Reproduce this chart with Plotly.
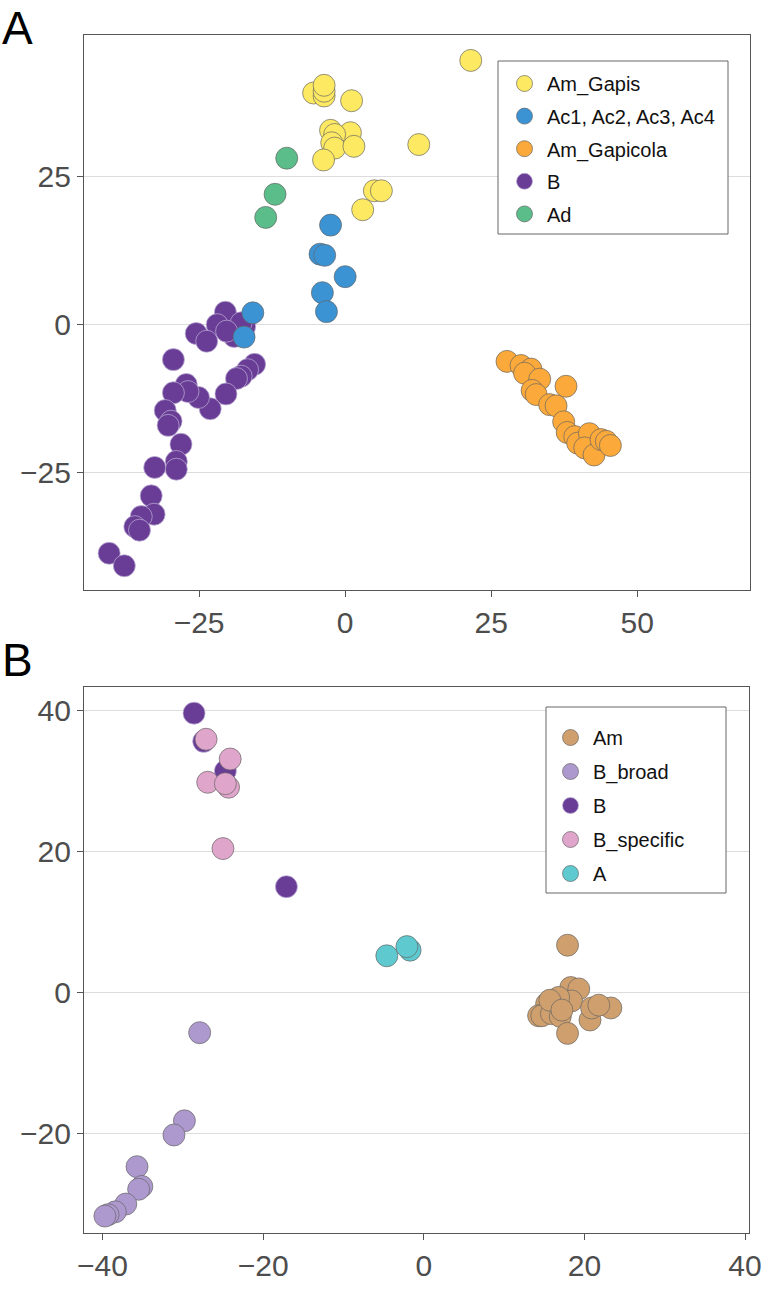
import plotly.graph_objects as go

# ---- Panel A data ----
am_gapis_x = [21.5, -5.4, -3.6, -3.6, -3.6, 1.1, -2.5, 0.9, -1.8, -2.3, -1.8, 1.5, -3.7, 12.6, 5.0, 6.2, 3.0]
am_gapis_y = [44.6, 39.1, 38.6, 39.4, 40.4, 37.8, 32.8, 32.4, 32.1, 30.7, 29.8, 30.1, 27.8, 30.4, 22.6, 22.6, 19.4]

ac_x = [-2.5, -4.3, -3.5, 0.0, -3.9, -3.2, -15.8, -17.3]
ac_y = [16.8, 11.9, 11.7, 8.1, 5.4, 2.2, 2.0, -2.1]

am_gapicola_x = [27.7, 30.1, 31.8, 30.7, 33.3, 37.8, 32.0, 32.7, 35.0, 36.1, 37.4, 38.0, 39.3,
                 39.8, 41.8, 41.0, 42.6, 43.8, 44.7, 45.4]
am_gapicola_y = [-6.2, -6.9, -7.5, -8.2, -9.2, -10.4, -11.1, -11.8, -13.5, -13.7, -16.4, -18.2, -18.9,
                 -20.0, -18.4, -20.8, -22.0, -19.4, -19.7, -20.4]

b_a_x = [-20.5, -21.9, -25.5, -23.7, -19.0, -17.2, -17.8, -20.3, -29.4, -15.5, -16.7, -17.8, -18.6,
         -20.4, -23.1, -25.1, -27.2, -26.9, -29.4, -30.8, -29.8, -30.3, -28.1, -28.9, -28.9, -32.6,
         -33.2, -32.7, -34.9, -36.0, -35.2, -40.4, -37.8]
b_a_y = [2.1, 0.0, -1.5, -2.8, -2.0, -0.3, 0.3, -1.1, -5.9, -6.7, -7.6, -8.7, -9.1,
         -11.7, -14.2, -12.3, -10.1, -11.3, -11.5, -14.5, -16.3, -17.0, -20.2, -23.1, -24.4, -24.1,
         -28.9, -32.0, -32.4, -34.1, -34.7, -38.6, -40.7]

ad_x = [-10.0, -12.0, -13.6]
ad_y = [28.1, 22.0, 18.1]

# ---- Panel B data ----
am_x = [17.9, 18.3, 19.3, 18.4, 16.8, 15.3, 14.3, 14.7, 15.9, 17.0, 17.9, 20.7, 20.9, 23.3, 15.7, 17.2, 21.8]
am_y = [6.7, 0.7, 0.5, -1.2, -0.7, -1.6, -3.3, -3.3, -3.0, -3.4, -5.8, -3.9, -2.2, -2.2, -1.1, -2.5, -1.8]

b_broad_x = [-27.9, -29.8, -31.1, -35.7, -35.1, -35.5, -37.1, -38.4, -39.3, -39.7]
b_broad_y = [-5.7, -18.2, -20.2, -24.7, -27.5, -27.9, -30.0, -31.1, -31.5, -31.7]

b_b_x = [-28.6, -27.4, -24.7, -17.1]
b_b_y = [39.6, 35.6, 31.4, 15.0]

b_specific_x = [-27.1, -24.1, -26.9, -24.3, -24.7, -25.0]
b_specific_y = [35.9, 33.1, 29.8, 29.1, 29.6, 20.4]

a_x = [-4.6, -1.7, -2.1]
a_y = [5.2, 6.0, 6.5]

W, H = 763, 1290

fig = go.Figure()


def add_points(x, y, name, color, xa, ya, legend, rank, line_color='rgba(100,100,100,0.85)'):
    fig.add_trace(go.Scatter(
        x=x, y=y, name=name, mode='markers',
        xaxis=xa, yaxis=ya, legend=legend, legendrank=rank, legendgroup=name,
        marker=dict(size=22, color=color, line=dict(color=line_color, width=0.8)),
    ))


# draw order: purple first so the blue points sit on top
add_points(b_a_x, b_a_y, 'B', '#693D96', 'x', 'y', 'legend', 4, line_color='rgba(190,175,215,0.9)')
add_points(ad_x, ad_y, 'Ad', '#5BBD8A', 'x', 'y', 'legend', 5)
add_points(am_gapicola_x, am_gapicola_y, 'Am_Gapicola', '#FBA93A', 'x', 'y', 'legend', 3)
add_points(ac_x, ac_y, 'Ac1, Ac2, Ac3, Ac4', '#3B93D3', 'x', 'y', 'legend', 2)
add_points(am_gapis_x, am_gapis_y, 'Am_Gapis', '#FDE962', 'x', 'y', 'legend', 1)

add_points(am_x, am_y, 'Am', '#CFA06E', 'x2', 'y2', 'legend2', 1)
add_points(b_broad_x, b_broad_y, 'B_broad', '#AE99CF', 'x2', 'y2', 'legend2', 2)
add_points(b_b_x, b_b_y, 'B ', '#693D96', 'x2', 'y2', 'legend2', 3, line_color='rgba(190,175,215,0.9)')
add_points(b_specific_x, b_specific_y, 'B_specific', '#E0A5CB', 'x2', 'y2', 'legend2', 4)
add_points(a_x, a_y, 'A', '#5FC9D0', 'x2', 'y2', 'legend2', 5)

tick_font = dict(family='Liberation Sans, Arial, sans-serif', size=30, color='#4D4D4D')
axis_common = dict(
    showline=True, linecolor='#555555', linewidth=1.3, mirror=True,
    ticks='outside', ticklen=6, tickcolor='#555555', tickwidth=1.3,
    tickfont=tick_font, zeroline=False, automargin=False,
)

legend_common = dict(
    bgcolor='rgba(0,0,0,0)', borderwidth=0,
    font=dict(family='Liberation Sans, Arial, sans-serif', size=20, color='#111111'),
    xanchor='left', yanchor='top', itemsizing='trace', itemwidth=35,
)


def box(x0, y0, x1, y1):
    # legend frame, given in page pixels
    return dict(type='rect', xref='paper', yref='paper', layer='above',
                x0=x0 / W, x1=x1 / W, y0=1 - y1 / H, y1=1 - y0 / H,
                fillcolor='white', line=dict(color='#666666', width=1))


fig.update_layout(
    width=W, height=H,
    margin=dict(l=0, r=0, t=0, b=0),
    plot_bgcolor='white', paper_bgcolor='white',
    showlegend=True,
    xaxis=dict(domain=[0.1101, 0.9830], range=[-44.7, 69.3], tickvals=[-25, 0, 25, 50],
               ticktext=['\u221225', '0', '25', '50'], showgrid=False, anchor='y', **axis_common),
    yaxis=dict(domain=[0.5426, 0.9729], range=[-44.8, 48.9], tickvals=[-25, 0, 25],
               ticktext=['\u221225', '0', '25'], showgrid=True, gridcolor='#DDDDDD', gridwidth=1,
               anchor='x', **axis_common),
    xaxis2=dict(domain=[0.1101, 0.9817], range=[-42.3, 40.5], tickvals=[-40, -20, 0, 20, 40],
                ticktext=['\u221240', '\u221220', '0', '20', '40'], showgrid=False, anchor='y2', **axis_common),
    yaxis2=dict(domain=[0.0442, 0.4674], range=[-34.1, 43.3], tickvals=[-20, 0, 20, 40],
                ticktext=['\u221220', '0', '20', '40'], showgrid=True, gridcolor='#DDDDDD', gridwidth=1,
                anchor='x2', **axis_common),
    legend=dict(x=502 / W, y=1 - 64 / H, tracegroupgap=3.6, **legend_common),
    legend2=dict(x=548 / W, y=1 - 718 / H, tracegroupgap=5, **legend_common),
    shapes=[box(498, 61, 728, 234), box(546, 707, 726, 893)],
    annotations=[
        dict(text='A', x=0.0, y=1.0, xref='paper', yref='paper', xanchor='left', yanchor='top',
             showarrow=False, font=dict(family='Liberation Sans, Arial, sans-serif', size=46, color='black')),
        dict(text='B', x=0.0, y=1 - 632 / H, xref='paper', yref='paper', xanchor='left', yanchor='top',
             showarrow=False, font=dict(family='Liberation Sans, Arial, sans-serif', size=46, color='black')),
    ],
)

fig.write_html('out.html', config={'displayModeBar': False},
               post_script="document.body.style.margin='0';")
